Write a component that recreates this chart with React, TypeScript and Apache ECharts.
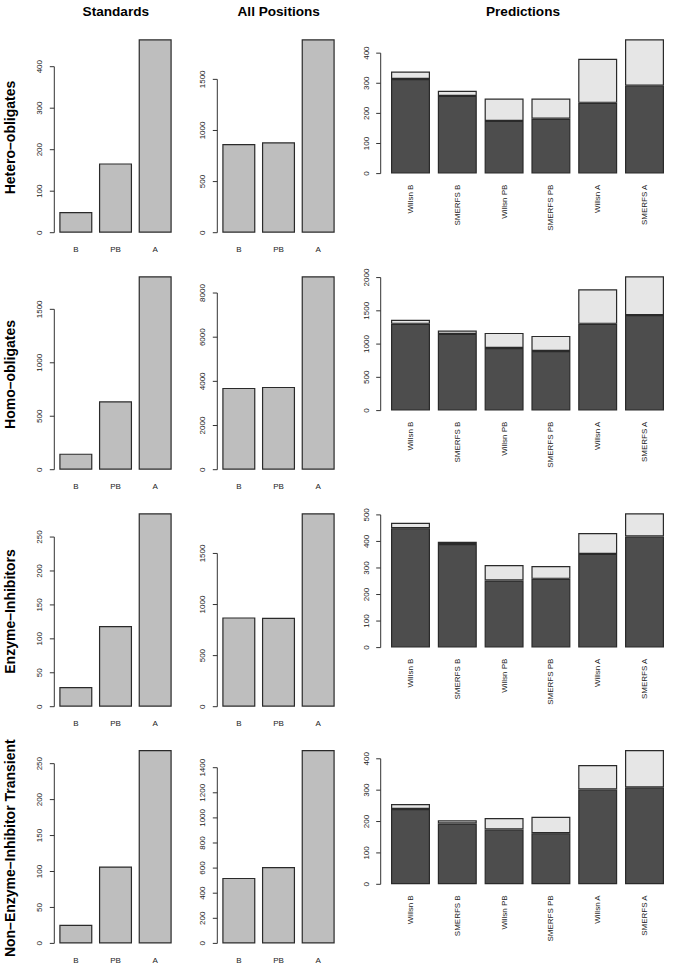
import React, { useEffect, useRef } from "react";
import * as echarts from "echarts";

const columnTitles = ["Standards", "All Positions", "Predictions"];
const rowNames = ["Hetero–obligates", "Homo–obligates", "Enzyme–Inhibitors", "Non–Enzyme–Inhibitor Transient"];
const standardCategories = ["B", "PB", "A"];
const predictionCategories = ["Willsn B", "SMERFS B", "Willsn PB", "SMERFS PB", "Willsn A", "SMERFS A"];

// Hetero-obligates
const heteroStandards = [50, 167, 466];
const heteroAllPositions = [868, 884, 1892];
const heteroPredCorrect = [314, 258, 175, 182, 235, 292];
const heteroPredExtra = [25, 17, 74, 67, 146, 154];
const heteroStandardTicks = [0, 100, 200, 300, 400];
const heteroAllTicks = [0, 500, 1000, 1500];
const heteroPredTicks = [0, 100, 200, 300, 400];

// Homo-obligates
const homoStandards = [150, 640, 1809];
const homoAllPositions = [3703, 3748, 8757];
const homoPredCorrect = [1304, 1153, 941, 896, 1304, 1436];
const homoPredExtra = [61, 50, 227, 227, 519, 583];
const homoStandardTicks = [0, 500, 1000, 1500];
const homoAllTicks = [0, 2000, 4000, 6000, 8000];
const homoPredTicks = [0, 500, 1000, 1500, 2000];

// Enzyme-Inhibitors
const enzymeStandards = [29, 119, 285];
const enzymeAllPositions = [874, 871, 1893];
const enzymePredCorrect = [450, 390, 253, 259, 353, 419];
const enzymePredExtra = [20, 9, 58, 48, 79, 87];
const enzymeStandardTicks = [0, 50, 100, 150, 200, 250];
const enzymeAllTicks = [0, 500, 1000, 1500];
const enzymePredTicks = [0, 100, 200, 300, 400, 500];

// Non-Enzyme-Inhibitor Transient
const transientStandards = [26, 107, 269];
const transientAllPositions = [522, 609, 1541];
const transientPredCorrect = [240, 194, 175, 163, 302, 309];
const transientPredExtra = [16, 10, 36, 52, 78, 119];
const transientStandardTicks = [0, 50, 100, 150, 200, 250];
const transientAllTicks = [0, 200, 400, 600, 800, 1000, 1200, 1400];
const transientPredTicks = [0, 100, 200, 300, 400];

const rows = [
  { std: heteroStandards, all: heteroAllPositions, dark: heteroPredCorrect, light: heteroPredExtra, ticks: [heteroStandardTicks, heteroAllTicks, heteroPredTicks] },
  { std: homoStandards, all: homoAllPositions, dark: homoPredCorrect, light: homoPredExtra, ticks: [homoStandardTicks, homoAllTicks, homoPredTicks] },
  { std: enzymeStandards, all: enzymeAllPositions, dark: enzymePredCorrect, light: enzymePredExtra, ticks: [enzymeStandardTicks, enzymeAllTicks, enzymePredTicks] },
  { std: transientStandards, all: transientAllPositions, dark: transientPredCorrect, light: transientPredExtra, ticks: [transientStandardTicks, transientAllTicks, transientPredTicks] },
];

const FONT = '"Liberation Sans", Arial, Helvetica, sans-serif';
const ROW_TOP = [39.3, 276.3, 513.3, 750];
const COLS = [
  { left: 56, width: 119, height: 193.4, axisGap: 1.7, titleX: 115.8 },
  { left: 219, width: 119, height: 193.4, axisGap: 1.7, titleX: 278.7 },
  { left: 387.1, width: 280.8, height: 134.3, axisGap: 6.4, titleX: 523 },
];
const BORDER = "#2a2a2a";

function buildOption() {
  const grid: any[] = [];
  const xAxis: any[] = [];
  const yAxis: any[] = [];
  const series: any[] = [];
  const graphic: any[] = [];

  rows.forEach((row, r) => {
    COLS.forEach((col, c) => {
      const i = r * 3 + c;
      const isPred = c === 2;
      grid.push({ left: col.left, top: ROW_TOP[r], width: col.width, height: col.height });
      xAxis.push({
        type: "category",
        gridIndex: i,
        data: isPred ? predictionCategories : standardCategories,
        axisLine: { show: false },
        axisTick: { show: false },
        axisLabel: {
          interval: 0,
          fontSize: 8,
          fontFamily: FONT,
          color: "#222",
          margin: isPred ? 11 : 13,
          rotate: isPred ? 90 : 0,
        },
      });
      yAxis.push({ type: "value", gridIndex: i, min: 0, max: "dataMax", show: false });

      const barStyle = { borderColor: BORDER, borderWidth: 1.2 };
      if (!isPred) {
        series.push({
          type: "bar",
          xAxisIndex: i,
          yAxisIndex: i,
          data: c === 0 ? row.std : row.all,
          barCategoryGap: "16.7%",
          itemStyle: { color: "#bebebe", ...barStyle },
          silent: true,
        });
      } else {
        series.push({
          type: "bar",
          xAxisIndex: i,
          yAxisIndex: i,
          stack: "pred" + r,
          data: row.dark,
          barCategoryGap: "16.7%",
          itemStyle: { color: "#4d4d4d", ...barStyle },
          silent: true,
        });
        series.push({
          type: "bar",
          xAxisIndex: i,
          yAxisIndex: i,
          stack: "pred" + r,
          data: row.light,
          barCategoryGap: "16.7%",
          itemStyle: { color: "#e6e6e6", ...barStyle },
          silent: true,
        });
      }

      const ticks = row.ticks[c];
      const gap = col.axisGap;
      series.push({
        type: "custom",
        xAxisIndex: i,
        yAxisIndex: i,
        silent: true,
        clip: false,
        data: ticks.map((t) => [0, t]),
        encode: { x: 0, y: 1 },
        renderItem: (params: any, api: any) => {
          const v = api.value(1);
          const cs = params.coordSys;
          const x = cs.x - gap;
          const y = api.coord([0, v])[1];
          const children: any[] = [
            { type: "line", shape: { x1: x, y1: y, x2: x - 4.5, y2: y }, style: { stroke: "#333", lineWidth: 1 } },
            {
              type: "text",
              x: x - 14.5,
              y: y,
              rotation: Math.PI / 2,
              style: { text: String(v), fill: "#222", font: `8px ${FONT}`, align: "center", verticalAlign: "middle" },
            },
          ];
          if (params.dataIndex === 0) {
            const yTop = api.coord([0, ticks[ticks.length - 1]])[1];
            children.push({ type: "line", shape: { x1: x, y1: y, x2: x, y2: yTop }, style: { stroke: "#333", lineWidth: 1 } });
          }
          return { type: "group", children };
        },
      });
    });

    graphic.push({
      type: "text",
      x: 10,
      y: ROW_TOP[r] + 98.2,
      rotation: Math.PI / 2,
      style: { text: rowNames[r], fill: "#000", font: `bold 14px ${FONT}`, align: "center", verticalAlign: "middle" },
    });
  });

  COLS.forEach((col, c) => {
    graphic.push({
      type: "text",
      x: col.titleX,
      y: 11.5,
      style: { text: columnTitles[c], fill: "#000", font: `bold 13.6px ${FONT}`, align: "center", verticalAlign: "middle" },
    });
  });

  return { animation: false, backgroundColor: "#ffffff", grid, xAxis, yAxis, series, graphic };
}

export default function App() {
  const ref = useRef<HTMLDivElement>(null);
  useEffect(() => {
    if (!ref.current) return;
    const chart = echarts.init(ref.current, undefined, { renderer: "svg" });
    chart.setOption(buildOption());
    return () => chart.dispose();
  }, []);
  return <div ref={ref} style={{ position: "absolute", left: 0, top: 0, width: 685, height: 966 }} />;
}
